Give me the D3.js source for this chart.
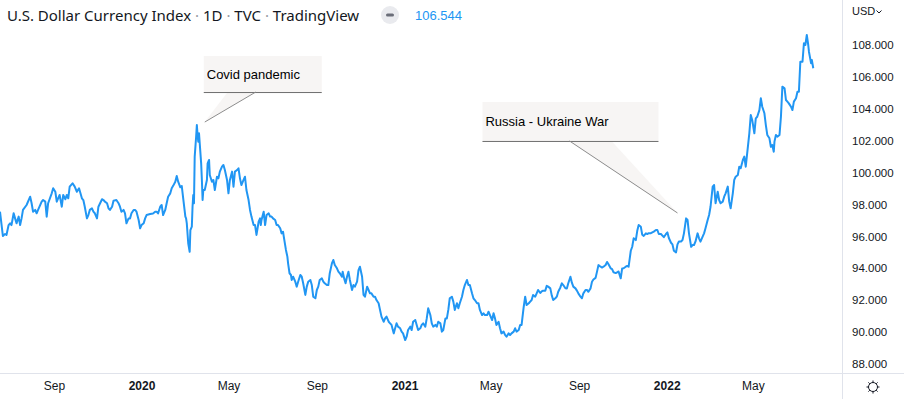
<!DOCTYPE html>
<html>
<head>
<meta charset="utf-8">
<script src="https://cdn.jsdelivr.net/npm/d3@7"></script>
<style>
  body { margin: 0; background: #fff; }
  svg { display: block; }
</style>
</head>
<body>
<div id="chart"></div>
<script>
// daily closes (U.S. Dollar Currency Index, TVC)
var dates = [
  "2019-06-18","2019-06-22","2019-06-25","2019-06-27","2019-06-30",
  "2019-07-02","2019-07-04","2019-07-07","2019-07-09","2019-07-11","2019-07-14","2019-07-16","2019-07-18","2019-07-20","2019-07-25","2019-07-30",
  "2019-08-01","2019-08-03","2019-08-06","2019-08-08","2019-08-10","2019-08-15","2019-08-17","2019-08-20","2019-08-22","2019-08-24","2019-08-29","2019-08-31",
  "2019-09-03","2019-09-05","2019-09-09","2019-09-12","2019-09-14","2019-09-17","2019-09-19","2019-09-21","2019-09-23","2019-09-27","2019-09-30",
  "2019-10-03","2019-10-06","2019-10-10","2019-10-12","2019-10-14","2019-10-17","2019-10-19","2019-10-21","2019-10-24","2019-10-26","2019-10-28","2019-10-31",
  "2019-11-02","2019-11-07","2019-11-09","2019-11-11","2019-11-14","2019-11-16","2019-11-18","2019-11-21","2019-11-23","2019-11-27","2019-11-30",
  "2019-12-02","2019-12-04","2019-12-07","2019-12-09","2019-12-11","2019-12-14","2019-12-16","2019-12-18","2019-12-21","2019-12-23","2019-12-25","2019-12-28","2019-12-30",
  "2020-01-01","2020-01-04","2020-01-06","2020-01-08","2020-01-13","2020-01-17","2020-01-20","2020-01-22","2020-01-24","2020-01-27","2020-01-29","2020-01-31",
  "2020-02-03","2020-02-05","2020-02-07","2020-02-10","2020-02-12","2020-02-14","2020-02-17","2020-02-19","2020-02-21","2020-02-24","2020-02-26","2020-02-28",
  "2020-03-02","2020-03-03","2020-03-04","2020-03-06","2020-03-08","2020-03-09","2020-03-11","2020-03-12","2020-03-13","2020-03-14","2020-03-15","2020-03-17","2020-03-18","2020-03-19","2020-03-20","2020-03-21","2020-03-22","2020-03-24","2020-03-25","2020-03-26","2020-03-27","2020-03-29",
  "2020-04-01","2020-04-02","2020-04-04","2020-04-05","2020-04-08","2020-04-10","2020-04-12","2020-04-15","2020-04-17","2020-04-19","2020-04-22","2020-04-24","2020-04-26","2020-04-29",
  "2020-05-01","2020-05-03","2020-05-06","2020-05-08","2020-05-10","2020-05-13","2020-05-15","2020-05-17","2020-05-19","2020-05-22","2020-05-24","2020-05-26","2020-05-29","2020-05-31",
  "2020-06-02","2020-06-05","2020-06-07","2020-06-09","2020-06-12","2020-06-14","2020-06-15","2020-06-16","2020-06-19","2020-06-21","2020-06-23","2020-06-26","2020-06-28","2020-06-30",
  "2020-07-02","2020-07-05","2020-07-07","2020-07-09","2020-07-12","2020-07-14","2020-07-16","2020-07-17","2020-07-20","2020-07-22","2020-07-23","2020-07-25","2020-07-27","2020-07-28","2020-07-30",
  "2020-08-02","2020-08-04","2020-08-06","2020-08-09","2020-08-11","2020-08-13","2020-08-16","2020-08-18","2020-08-20","2020-08-23","2020-08-25","2020-08-27","2020-08-30",
  "2020-09-01","2020-09-03","2020-09-05","2020-09-08","2020-09-10","2020-09-12","2020-09-15","2020-09-17","2020-09-19","2020-09-22","2020-09-24","2020-09-26","2020-09-29",
  "2020-10-01","2020-10-03","2020-10-06","2020-10-07","2020-10-09","2020-10-11","2020-10-13","2020-10-15","2020-10-17","2020-10-20","2020-10-22","2020-10-24","2020-10-27","2020-10-29","2020-10-31",
  "2020-11-03","2020-11-05","2020-11-07","2020-11-10","2020-11-12","2020-11-14","2020-11-16","2020-11-19","2020-11-21","2020-11-23","2020-11-26","2020-11-28","2020-11-30",
  "2020-12-03","2020-12-05","2020-12-07","2020-12-10","2020-12-12","2020-12-14","2020-12-17","2020-12-19","2020-12-21","2020-12-23","2020-12-26","2020-12-28","2020-12-30",
  "2021-01-02","2021-01-04","2021-01-06","2021-01-09","2021-01-11","2021-01-13","2021-01-16","2021-01-18","2021-01-20","2021-01-23","2021-01-25","2021-01-27","2021-01-30",
  "2021-02-01","2021-02-03","2021-02-06","2021-02-08","2021-02-10","2021-02-13","2021-02-15","2021-02-17","2021-02-20","2021-02-22","2021-02-24","2021-02-27",
  "2021-03-01","2021-03-03","2021-03-05","2021-03-08","2021-03-10","2021-03-12","2021-03-15","2021-03-17","2021-03-19","2021-03-22","2021-03-24","2021-03-26","2021-03-29","2021-03-31",
  "2021-04-02","2021-04-05","2021-04-07","2021-04-09","2021-04-12","2021-04-14","2021-04-16","2021-04-19","2021-04-21","2021-04-23","2021-04-26","2021-04-28","2021-04-30",
  "2021-05-03","2021-05-05","2021-05-07","2021-05-09","2021-05-12","2021-05-14","2021-05-16","2021-05-19","2021-05-21","2021-05-23","2021-05-26","2021-05-28","2021-05-30",
  "2021-06-02","2021-06-04","2021-06-06","2021-06-09","2021-06-11","2021-06-13","2021-06-16","2021-06-18","2021-06-20","2021-06-23","2021-06-25","2021-06-27","2021-06-29",
  "2021-07-02","2021-07-04","2021-07-06","2021-07-09","2021-07-11","2021-07-13","2021-07-16","2021-07-18","2021-07-20","2021-07-23","2021-07-25","2021-07-27","2021-07-30",
  "2021-08-01","2021-08-03","2021-08-06","2021-08-08","2021-08-10","2021-08-13","2021-08-15","2021-08-17","2021-08-20","2021-08-22","2021-08-24","2021-08-27","2021-08-29","2021-08-31",
  "2021-09-03","2021-09-05","2021-09-07","2021-09-10","2021-09-12","2021-09-14","2021-09-17","2021-09-19","2021-09-21","2021-09-24","2021-09-26","2021-09-28",
  "2021-10-01","2021-10-03","2021-10-05","2021-10-08","2021-10-10","2021-10-12","2021-10-15","2021-10-17","2021-10-19","2021-10-22","2021-10-24","2021-10-26","2021-10-29","2021-10-31",
  "2021-11-02","2021-11-05","2021-11-07","2021-11-09","2021-11-12","2021-11-14","2021-11-16","2021-11-19","2021-11-21","2021-11-23","2021-11-26","2021-11-28","2021-11-30",
  "2021-12-03","2021-12-05","2021-12-07","2021-12-10","2021-12-12","2021-12-14","2021-12-17","2021-12-19","2021-12-21","2021-12-24","2021-12-26","2021-12-28","2021-12-31",
  "2022-01-02","2022-01-04","2022-01-07","2022-01-09","2022-01-11","2022-01-14","2022-01-16","2022-01-18","2022-01-21","2022-01-23","2022-01-25","2022-01-28","2022-01-30",
  "2022-02-01","2022-02-04","2022-02-06","2022-02-08","2022-02-10","2022-02-13","2022-02-15","2022-02-17","2022-02-20","2022-02-22","2022-02-24","2022-02-27",
  "2022-03-01","2022-03-03","2022-03-06","2022-03-08","2022-03-10","2022-03-13","2022-03-15","2022-03-17","2022-03-20","2022-03-22","2022-03-24","2022-03-27","2022-03-29","2022-03-31",
  "2022-04-03","2022-04-05","2022-04-07","2022-04-10","2022-04-12","2022-04-14","2022-04-17","2022-04-19","2022-04-21","2022-04-23","2022-04-26","2022-04-28","2022-04-30",
  "2022-05-03","2022-05-05","2022-05-07","2022-05-10","2022-05-12","2022-05-14","2022-05-17","2022-05-19","2022-05-21","2022-05-24","2022-05-26","2022-05-28","2022-05-30","2022-05-31",
  "2022-06-02","2022-06-04","2022-06-07","2022-06-09","2022-06-11","2022-06-14","2022-06-16","2022-06-18","2022-06-20","2022-06-23","2022-06-25","2022-06-27","2022-06-30",
  "2022-07-02","2022-07-04","2022-07-06","2022-07-09","2022-07-11","2022-07-13","2022-07-15","2022-07-17","2022-07-18","2022-07-21","2022-07-22","2022-07-24"
];
var values = [
  97.55,96.03,96.15,96.09,96.71,
  96.82,96.71,97.45,97.13,96.82,97.24,96.71,97.13,97.66,97.97,98.49,
  98.08,97.55,97.66,97.45,97.66,98.18,98.28,98.18,97.24,98.08,98.70,99.02,
  98.80,98.18,98.60,97.86,98.60,98.33,98.60,98.39,99.12,99.33,99.12,
  98.80,99.02,98.39,98.28,97.86,97.13,97.34,97.66,97.76,97.55,97.45,97.13,
  97.86,98.33,98.28,98.18,98.08,97.76,97.66,97.86,98.24,98.28,98.08,
  97.86,97.55,97.66,97.45,96.82,97.13,97.13,97.45,97.66,97.66,97.55,97.03,96.51,
  96.71,96.82,97.13,97.34,97.40,97.44,97.55,97.55,97.44,97.86,97.97,97.34,
  97.66,98.08,98.49,98.70,99.02,99.17,99.43,99.79,99.43,99.08,99.16,98.39,
  97.24,97.13,96.82,95.57,95.04,96.40,96.61,97.86,98.60,98.08,101.00,102.25,102.98,102.36,101.94,102.46,101.84,100.58,99.54,98.28,98.91,98.91,
  99.54,100.58,100.79,99.85,99.43,99.54,98.91,99.74,99.64,100.06,100.37,100.48,100.16,99.54,
  98.70,99.54,100.06,99.12,100.06,100.16,100.27,99.64,99.22,99.54,99.74,98.91,98.28,97.66,
  97.24,96.71,96.71,96.09,96.92,97.13,96.71,97.03,97.55,96.71,97.34,97.45,97.24,97.24,
  97.13,97.03,96.71,96.71,96.51,96.19,96.29,95.98,95.15,94.73,94.31,93.69,93.58,93.27,93.47,
  93.16,92.85,93.16,93.58,93.47,93.06,92.33,92.85,93.16,93.27,92.95,92.22,92.12,
  92.64,92.85,93.27,93.37,93.16,93.06,92.95,92.95,93.69,94.31,94.52,94.21,94.00,
  93.79,93.69,93.47,93.79,93.37,93.06,93.47,93.79,93.27,92.64,92.95,92.85,93.16,93.89,94.10,
  93.47,92.33,92.22,92.85,92.64,92.43,92.43,92.22,92.22,92.01,91.81,91.39,90.97,
  90.65,90.86,90.97,90.65,90.55,90.45,89.92,90.24,90.55,90.34,90.24,90.03,89.92,
  89.50,89.71,90.13,90.34,90.13,90.65,90.76,90.45,90.13,90.24,90.45,90.55,90.34,
  90.86,91.49,91.07,90.55,90.34,90.45,90.34,90.65,90.55,90.03,90.13,90.86,
  90.86,91.39,92.12,92.22,91.91,91.39,91.81,91.49,91.81,92.22,92.64,92.95,93.27,92.95,
  92.95,92.43,92.12,92.01,91.81,91.81,91.39,91.07,91.18,91.07,91.07,91.28,91.07,
  90.76,91.18,90.86,90.45,90.65,90.24,89.92,90.03,89.82,89.71,89.92,89.82,89.92,
  90.03,90.24,90.03,90.13,90.45,90.45,91.59,92.22,91.70,91.81,91.91,92.01,92.33,
  92.22,92.43,92.64,92.45,92.55,92.60,92.60,92.90,92.85,92.74,92.30,92.01,92.12,
  92.22,92.53,92.80,93.06,92.95,92.75,92.74,93.06,93.47,93.10,92.85,92.74,92.60,92.43,
  92.22,92.12,92.43,92.64,92.64,92.53,92.74,93.16,93.30,93.40,93.79,94.20,
  94.10,94.05,94.10,94.21,94.40,94.25,94.00,93.95,93.75,93.70,93.75,93.80,93.37,93.99,
  94.00,94.10,94.15,94.10,95.10,95.35,95.88,95.77,96.35,96.71,96.60,96.10,96.03,
  96.19,96.15,96.20,96.20,96.25,96.30,96.40,96.40,96.15,96.15,96.05,95.95,96.15,
  96.25,95.90,95.60,95.50,95.10,95.00,95.50,95.68,95.68,95.77,96.19,97.13,97.03,
  96.19,95.35,95.46,95.46,95.67,96.19,95.88,95.67,95.98,96.19,96.51,97.03,
  97.34,97.86,99.12,99.22,98.08,98.80,98.28,98.08,98.18,98.49,98.70,99.12,98.18,97.76,
  98.70,99.54,99.74,99.85,100.37,100.27,100.79,101.00,100.37,101.21,102.46,103.61,103.30,
  102.46,103.40,103.50,103.92,104.66,104.13,103.72,102.98,102.36,102.15,101.62,101.73,101.31,101.94,
  102.36,102.25,102.36,103.50,105.39,105.29,104.55,104.45,104.34,104.13,103.92,104.45,104.66,
  105.07,105.07,106.95,106.95,108.11,108.00,108.63,108.00,107.58,106.85,107.06,106.54
];

var priceTicks = [88, 90, 92, 94, 96, 98, 100, 102, 104, 106, 108];
var lastPrice = "106.544";
var titleParts = ["U.S. Dollar Currency Index", "1D", "TVC", "TradingView"];

var annoLabels = ["Covid pandemic", "Russia - Ukraine War"];
var annoDates = ["2020-03-29", "2022-01-16"];
var annoValues = [103.17, 97.47];

const width = 904, height = 399;
const plotRight = 842, plotBottom = 373;
const parse = d3.utcParse("%Y-%m-%d");
const font = "'Liberation Sans', Arial, sans-serif";

const data = dates.map(function (d, i) { return { date: parse(d), value: values[i] }; });

const svg = d3.select("#chart").append("svg")
    .attr("width", width)
    .attr("height", height)
    .style("font-family", font);

var x = d3.scaleUtc()
    .domain([parse("2019-06-18"), parse("2022-09-02")])
    .range([0, plotRight]);

var y = d3.scaleLinear()
    .domain([88, 108])
    .range([364, 45]);

svg.append("clipPath").attr("id", "plotClip")
    .append("rect").attr("width", plotRight).attr("height", plotBottom);

// frame lines
svg.append("line")
    .attr("x1", plotRight + 0.5).attr("x2", plotRight + 0.5)
    .attr("y1", 0).attr("y2", height)
    .attr("stroke", "#e0e3eb");
svg.append("line")
    .attr("x1", 0).attr("x2", width)
    .attr("y1", plotBottom + 0.5).attr("y2", plotBottom + 0.5)
    .attr("stroke", "#e0e3eb");

// price line
var line = d3.line()
    .x(function (d) { return x(d.date); })
    .y(function (d) { return y(d.value); });

svg.append("path")
    .datum(data)
    .attr("clip-path", "url(#plotClip)")
    .attr("fill", "none")
    .attr("stroke", "#2196f3")
    .attr("stroke-width", 2)
    .attr("stroke-linejoin", "round")
    .attr("d", line);

// right price scale
var yAxis = svg.append("g")
    .attr("transform", "translate(" + plotRight + ",0)")
    .call(d3.axisRight(y).tickValues(priceTicks).tickFormat(d3.format(".3f")).tickSize(0).tickPadding(10));
yAxis.select(".domain").remove();
yAxis.selectAll("text")
    .attr("fill", "#131722")
    .style("font-family", font)
    .style("font-size", "11.5px");

// time scale: every 4 months, only where the label fits inside the pane
var timeTicks = x.ticks(d3.utcMonth.every(4)).filter(function (d) { return x(d) < plotRight - 30; });

var xAxis = svg.append("g")
    .attr("transform", "translate(0," + plotBottom + ")")
    .call(d3.axisBottom(x).tickValues(timeTicks).tickSize(0).tickPadding(8)
        .tickFormat(function (d) { return d.getUTCMonth() === 0 ? d3.utcFormat("%Y")(d) : d3.utcFormat("%b")(d); }));
xAxis.select(".domain").remove();
xAxis.selectAll("text")
    .attr("fill", "#131722")
    .style("font-family", font)
    .style("font-size", "12px")
    .style("font-weight", function (d) { return d.getUTCMonth() === 0 ? "bold" : "normal"; });

// currency label
svg.append("text")
    .attr("x", 852).attr("y", 15)
    .attr("fill", "#131722")
    .style("font-size", "11px")
    .text("USD");
svg.append("path")
    .attr("d", "M876.5,10.5 l2.5,2.5 l2.5,-2.5")
    .attr("fill", "none")
    .attr("stroke", "#131722")
    .attr("stroke-width", 1);

// settings icon
var gear = svg.append("g").attr("transform", "translate(873,387)");
gear.append("circle").attr("r", 4.5).attr("fill", "none").attr("stroke", "#131722").attr("stroke-width", 1);
gear.selectAll("line")
    .data(d3.range(8))
    .enter()
    .append("line")
    .attr("x1", function (d) { return 4.5 * Math.cos(d * Math.PI / 4); })
    .attr("y1", function (d) { return 4.5 * Math.sin(d * Math.PI / 4); })
    .attr("x2", function (d) { return 6.5 * Math.cos(d * Math.PI / 4); })
    .attr("y2", function (d) { return 6.5 * Math.sin(d * Math.PI / 4); })
    .attr("stroke", "#131722")
    .attr("stroke-width", 1);

// title legend
var title = svg.append("text")
    .attr("x", 7).attr("y", 21)
    .attr("fill", "#131722")
    .style("font-family", "'Noto Sans', 'Open Sans', sans-serif")
    .style("font-size", "15px");
titleParts.forEach(function (t, i) {
    if (i > 0) title.append("tspan").attr("fill", "#9598a1").text(" \u00b7 ");
    title.append("tspan").text(t);
});

svg.append("circle")
    .attr("cx", 390).attr("cy", 15).attr("r", 9)
    .attr("fill", "#e9eaee");
svg.append("rect")
    .attr("x", 386).attr("y", 13.5).attr("width", 8).attr("height", 3).attr("rx", 1.5)
    .attr("fill", "#6a6d78");

svg.append("text")
    .attr("x", 415).attr("y", 20)
    .attr("fill", "#2196f3")
    .style("font-size", "13px")
    .text(lastPrice);

// callouts: box offsets are relative to the point the pointer touches
var calloutLayout = [
    { dx: -1, dy: -66, w: 118, h: 36, base: [23, 51], edge: 1 },
    { dx: -195, dy: -111, w: 176, h: 39, base: [-108, -66], edge: 0 }
];

annoLabels.forEach(function (label, i) {
    var tx = x(parse(annoDates[i])), ty = y(annoValues[i]);
    var c = calloutLayout[i];
    var bx = tx + c.dx, by = ty + c.dy, bottom = by + c.h;
    var g = svg.append("g");
    g.append("rect")
        .attr("x", bx).attr("y", by).attr("width", c.w).attr("height", c.h)
        .attr("fill", "#f7f5f4");
    g.append("path")
        .attr("d", "M" + (tx + c.base[0]) + "," + bottom + "L" + (tx + c.base[1]) + "," + bottom + "L" + tx + "," + ty + "Z")
        .attr("fill", "#f7f5f4");
    g.append("line")
        .attr("x1", bx).attr("x2", bx + c.w)
        .attr("y1", bottom + 0.5).attr("y2", bottom + 0.5)
        .attr("stroke", "#6e6e6e");
    g.append("line")
        .attr("x1", tx + c.base[c.edge]).attr("y1", bottom)
        .attr("x2", tx).attr("y2", ty)
        .attr("stroke", "#8c8c8c");
    g.append("text")
        .attr("x", bx + 3).attr("y", by + c.h / 2)
        .attr("dy", "0.35em")
        .attr("fill", "#000")
        .style("font-size", "13px")
        .text(label);
});
</script>
</body>
</html>
